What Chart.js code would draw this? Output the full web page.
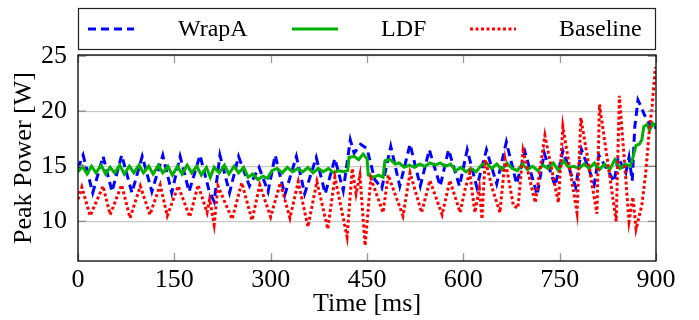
<!DOCTYPE html>
<html><head><meta charset="utf-8">
<script src="https://cdn.jsdelivr.net/npm/chart.js@4/dist/chart.umd.min.js"></script>
<style>html,body{margin:0;padding:0;background:#fff;overflow:hidden}</style>
</head><body>
<canvas id="c" width="699" height="320" style="display:block;width:699px;height:320px"></canvas>
<script>
const seriesNames = ['WrapA', 'LDF', 'Baseline'];
const xTicks = [0, 150, 300, 450, 600, 750, 900];
const yTicks = [10, 15, 20, 25];
const xTitle = 'Time [ms]';
const yTitle = 'Peak Power [W]';

const wrapaT = [0,8,23,39,53,68,84,100,115,132,146,159,173,190,204,212,221,236,250,267,282,296,307,322,340,353,371,385,400,413,424,430,440,450,462,473,487,501,517,533,547,564,577,594,606,621,636,652,667,683,696,715,726,743,755,775,784,804,811,835,841,853,858,863,867,872,876,881,886,892,896,900];
const wrapaV = [14.8,16.0,12.6,15.9,12.7,16.0,12.6,15.9,12.7,16.0,12.6,15.9,12.7,16.0,12.8,11.8,16.0,12.6,15.9,13.2,14.9,12.7,16.0,12.4,15.9,12.5,15.8,12.5,15.7,12.8,17.4,16.2,17.0,16.6,13.8,13.0,16.8,13.2,17.0,13.2,16.5,13.2,16.5,13.2,16.5,13.1,16.5,13.4,17.2,13.4,16.3,12.4,16.2,13.2,16.4,13.1,16.5,13.4,16.0,13.6,15.8,14.4,15.8,13.7,18.6,21.0,20.5,19.8,19.2,18.6,19.0,18.4];

const ldfT = [0,7,14,21,28,36,43,50,57,65,72,80,87,95,102,110,117,125,132,140,147,155,162,170,177,185,192,200,206,212,220,228,235,243,250,258,265,272,280,288,295,302,310,318,326,334,342,350,358,366,374,382,390,398,406,414,420,422,430,437,444,450,452,460,468,475,478,486,494,500,508,516,524,532,540,548,556,564,572,580,588,596,604,612,620,628,636,644,652,660,668,676,684,692,700,708,716,724,732,740,748,756,764,772,780,788,796,804,812,820,828,836,844,852,860,864,869,874,878,881,886,890,895,900];
const ldfV = [14.5,15.0,14.3,15.0,14.4,15.1,14.3,14.9,14.4,15.1,14.3,15.0,14.4,15.1,14.4,15.0,14.3,15.1,14.4,15.0,14.2,15.0,14.3,15.1,14.4,15.0,14.2,14.9,14.0,14.9,14.4,15.1,14.3,15.0,14.4,14.9,14.0,14.3,13.8,14.1,13.9,14.6,14.8,14.4,14.9,14.5,14.8,14.5,14.9,14.4,14.8,14.5,14.8,14.4,14.6,14.5,14.6,15.8,15.9,15.6,16.1,15.7,14.2,14.0,14.2,14.0,15.5,15.6,15.2,15.3,14.9,15.1,14.9,15.2,15.0,15.3,15.1,15.3,15.0,15.2,14.6,14.9,14.5,14.8,14.5,15.1,15.3,14.8,15.2,14.7,15.3,14.8,14.6,15.2,14.7,15.0,14.6,15.1,14.8,15.3,14.6,15.5,14.9,15.0,14.8,15.2,14.8,15.3,14.7,15.2,14.7,15.6,14.8,15.2,15.0,15.8,16.9,17.0,17.4,18.6,18.8,18.3,18.9,18.6];

const baseT = [0,6,19,39,50,68,81,97,112,128,139,156,174,187,201,205,212,218,240,255,271,283,300,315,330,343,358,372,389,400,419,427,433,439,447,456,475,483,506,517,535,548,567,579,595,603,610,618,625,629,634,645,657,665,678,685,693,712,727,748,755,777,783,808,812,838,843,858,864,869,878,884,889,894,899];
const baseV = [12.0,13.1,10.5,13.2,10.6,13.3,10.3,13.2,10.6,13.3,10.5,13.2,10.4,13.3,10.8,12.0,9.7,13.2,10.2,13.5,10.1,13.3,10.4,13.5,10.3,13.6,9.5,13.6,9.3,14.0,8.6,14.8,12.5,14.2,7.8,13.9,10.8,14.2,10.5,14.4,10.8,13.7,10.6,13.7,10.8,13.0,14.4,10.8,13.0,10.2,15.6,13.0,10.8,15.6,11.4,11.2,16.4,11.7,17.8,11.7,18.6,10.8,19.4,10.7,20.6,10.0,21.4,10.0,12.2,9.3,11.5,14.4,17.9,20.5,24.0];

const SERIF = '"Liberation Serif","Times New Roman",serif';
const pts = (T, V) => T.map((t, i) => ({x: t, y: V[i]}));

const framePlugin = {
  id: 'frame',
  afterDraw(chart) {
    const ctx = chart.ctx, a = chart.chartArea;
    const xs = chart.scales.x, ys = chart.scales.y;
    ctx.save();
    ctx.strokeStyle = '#999'; ctx.lineWidth = 1.3;
    xTicks.forEach(v => {
      const px = Math.round(xs.getPixelForValue(v)) + 0.5;
      ctx.beginPath();
      ctx.moveTo(px, a.bottom); ctx.lineTo(px, a.bottom - 8);
      ctx.moveTo(px, a.top); ctx.lineTo(px, a.top + 8);
      ctx.stroke();
    });
    ctx.strokeStyle = '#888';
    yTicks.forEach(v => {
      const py = ys.getPixelForValue(v);
      ctx.beginPath();
      ctx.moveTo(a.left, py); ctx.lineTo(a.left + 8, py);
      ctx.moveTo(a.right, py); ctx.lineTo(a.right - 8, py);
      ctx.stroke();
    });
    ctx.strokeStyle = '#000'; ctx.lineWidth = 1.3;
    ctx.strokeRect(a.left, a.top, a.right - a.left, a.bottom - a.top);
    ctx.strokeStyle = '#222'; ctx.lineWidth = 1.2;
    ctx.strokeRect(78.5, 8.5, 577, 41);
    const sx = [88, 292, 470], tx = [178, 381, 559], ly = 29;
    chart.data.datasets.forEach((ds, i) => {
      ctx.save();
      ctx.strokeStyle = ds.borderColor;
      ctx.lineWidth = ds.borderWidth;
      ctx.setLineDash(ds.borderDash || []);
      ctx.beginPath(); ctx.moveTo(sx[i], ly); ctx.lineTo(sx[i] + 46, ly); ctx.stroke();
      ctx.restore();
      ctx.fillStyle = '#000';
      ctx.font = '24px ' + SERIF;
      ctx.textBaseline = 'middle'; ctx.textAlign = 'left';
      ctx.fillText(ds.label, tx[i], ly + 1);
    });
    ctx.restore();
  }
};

new Chart(document.getElementById('c').getContext('2d'), {
  type: 'line',
  data: {
    datasets: [
      {label: seriesNames[0], data: pts(wrapaT, wrapaV), borderColor: '#0000ff', borderWidth: 3, borderDash: [8, 5], order: 2},
      {label: seriesNames[1], data: pts(ldfT, ldfV), borderColor: '#00b000', borderWidth: 3, order: 1},
      {label: seriesNames[2], data: pts(baseT, baseV), borderColor: '#ff0000', borderWidth: 3, borderDash: [3, 2.5], order: 0}
    ]
  },
  options: {
    responsive: false, animation: false, devicePixelRatio: 1,
    layout: {padding: {left: 0, right: 43, top: 55, bottom: 0}},
    elements: {point: {radius: 0}, line: {tension: 0, fill: false}},
    plugins: {legend: {display: false}, tooltip: {enabled: false}},
    scales: {
      x: {
        type: 'linear', min: 0, max: 900,
        afterBuildTicks: s => { s.ticks = xTicks.map(v => ({value: v})); },
        afterFit: s => { s.height = 59; },
        grid: {display: false}, border: {display: false},
        ticks: {font: {family: SERIF, size: 26}, color: '#000', padding: -4, maxRotation: 0, autoSkip: false},
        title: {display: true, text: xTitle, font: {family: SERIF, size: 26, lineHeight: 1}, color: '#000', padding: {top: 0, bottom: 3}}
      },
      y: {
        type: 'linear', min: 6.4, max: 25.1,
        afterBuildTicks: s => { s.ticks = yTicks.map(v => ({value: v})); },
        afterFit: s => { s.width = 78; },
        grid: {color: '#c8c8c8', lineWidth: 1.3, drawTicks: false}, border: {display: false},
        ticks: {font: {family: SERIF, size: 26}, color: '#000', padding: 11},
        title: {display: true, text: yTitle, font: {family: SERIF, size: 26, lineHeight: 1}, color: '#000', padding: {top: 11, bottom: 0}}
      }
    }
  },
  plugins: [framePlugin]
});
</script>
</body></html>
